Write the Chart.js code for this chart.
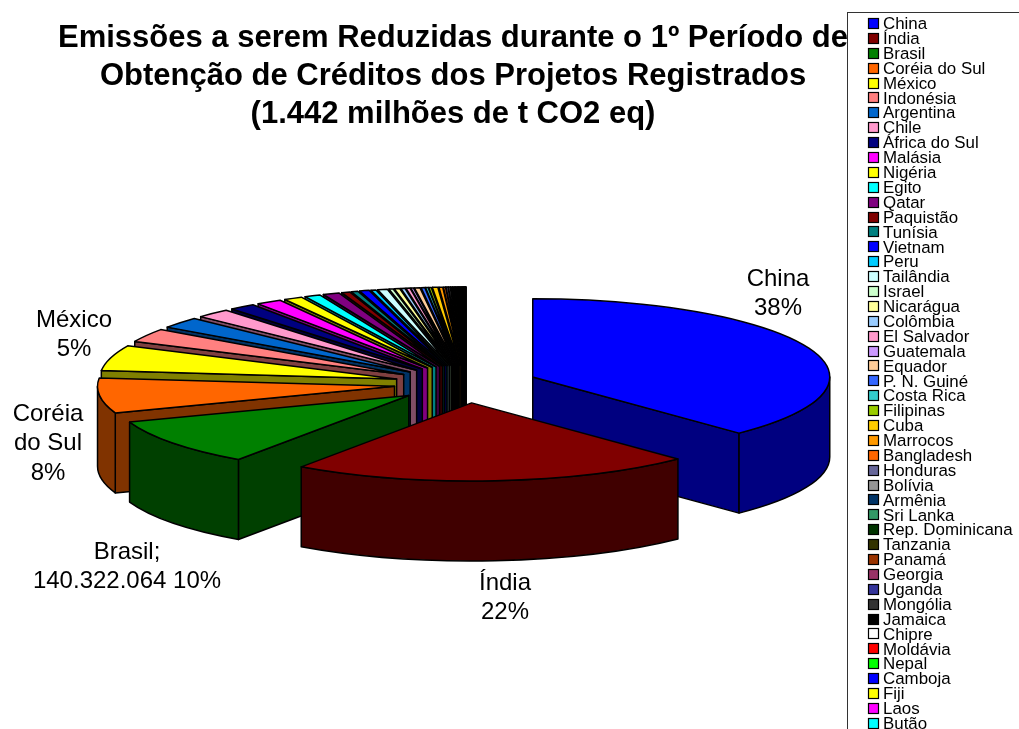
<!DOCTYPE html>
<html>
<head>
<meta charset="utf-8">
<title>Emissões a serem Reduzidas</title>
<script src="https://cdn.jsdelivr.net/npm/chart.js@4/dist/chart.umd.min.js"></script>
<style>
html, body { margin: 0; padding: 0; background: #fff; overflow: hidden; }
#wrap { position: relative; width: 1019px; height: 729px; }
</style>
</head>
<body>
<div id="wrap"><canvas id="pie-chart" width="1019" height="729"></canvas></div>
<script>
// Data (milhões de t CO2 eq)
const countries = ['China', 'Índia', 'Brasil', 'Coréia do Sul', 'México', 'Indonésia', 'Argentina', 'Chile',
    'África do Sul', 'Malásia', 'Nigéria', 'Egito', 'Qatar', 'Paquistão', 'Tunísia', 'Vietnam', 'Peru',
    'Tailândia', 'Israel', 'Nicarágua', 'Colômbia', 'El Salvador', 'Guatemala', 'Equador', 'P. N. Guiné',
    'Costa Rica', 'Filipinas', 'Cuba', 'Marrocos', 'Bangladesh', 'Honduras', 'Bolívia', 'Armênia', 'Sri Lanka',
    'Rep. Dominicana', 'Tanzania', 'Panamá', 'Georgia', 'Uganda', 'Mongólia', 'Jamaica', 'Chipre', 'Moldávia',
    'Nepal', 'Camboja', 'Fiji', 'Laos', 'Butão'];
const emissions = [544, 316, 140.322, 104, 76, 40, 33, 27, 20.5, 20, 14.5, 12.4, 12.8, 6.5, 5.2, 7.6, 4, 7.6,
    3.2, 4.3, 3.2, 3.2, 2, 4.3, 2.9, 2, 2, 4.3, 2.9, 1.6, 1.5, 1.4, 1.2, 1.1, 1, 0.9, 0.8, 0.8, 0.7, 0.6, 0.5,
    0.5, 0.4, 0.4, 0.3, 0.2, 0.2, 0.1];
const sliceColors = ['#0000FF', '#800000', '#008000', '#FF6600', '#FFFF00', '#FF8080', '#0066CC', '#FF99CC',
    '#000080', '#FF00FF', '#FFFF00', '#00FFFF', '#800080', '#800000', '#008080', '#0000FF', '#00CCFF', '#CCFFFF',
    '#CCFFCC', '#FFFF99', '#99CCFF', '#FF99CC', '#CC99FF', '#FFCC99', '#3366FF', '#33CCCC', '#99CC00', '#FFCC00',
    '#FF9900', '#FF6600', '#666699', '#969696', '#003366', '#339966', '#003300', '#333300', '#993300', '#993366',
    '#333399', '#333333', '#000000', '#FFFFFF', '#FF0000', '#00FF00', '#0000FF', '#FFFF00', '#FF00FF', '#00FFFF'];
const titleLines = ['Emissões a serem Reduzidas durante o 1º Período de',
    'Obtenção de Créditos dos Projetos Registrados',
    '(1.442 milhões de t CO2 eq)'];
const labelTexts = [['China', '38%'], ['Índia', '22%'], ['Brasil;', '140.322.064 10%'], ['Coréia', 'do Sul', '8%'], ['México', '5%']];

// Placement and look of the 3D pie
const FONT = '"Liberation Sans", Arial, sans-serif';
const labelCenters = [[778, 279], [505, 583], [127, 552], [48, 414], [74, 320]];
const LABEL_LINE = 29.5;
const TILT = 0.263;      // vertical squash of the pie
const DEPTH = 80;        // wall height
const EXPLODE = 72;      // how far slices move out
const SHIFT_X = 13;      // title is centred at 453, pie at 466

function darken(hex) {
    const n = parseInt(hex.slice(1), 16);
    const half = v => Math.round(v / 2);
    return `rgb(${half(n >> 16)}, ${half((n >> 8) & 255)}, ${half(n & 255)})`;
}

function drawSlice(ctx, arc, color) {
    const a0 = arc.startAngle;
    const a1 = arc.endAngle;
    const mid = (a0 + a1) / 2;
    const R = arc.outerRadius;
    const cx = arc.x + SHIFT_X + EXPLODE * Math.cos(mid);
    const cy = arc.y + EXPLODE * TILT * Math.sin(mid);
    const ry = R * TILT;
    const rimX = a => cx + R * Math.cos(a);
    const rimY = a => cy + ry * Math.sin(a);

    ctx.lineWidth = 1.5;
    ctx.strokeStyle = '#000';
    ctx.lineJoin = 'round';
    ctx.fillStyle = darken(color);

    // radial walls, only the ones facing the viewer
    [[a0, a0 - Math.PI / 2], [a1, a1 + Math.PI / 2]].forEach(([a, normal]) => {
        if (Math.sin(normal) <= 0) return;
        ctx.beginPath();
        ctx.moveTo(cx, cy);
        ctx.lineTo(rimX(a), rimY(a));
        ctx.lineTo(rimX(a), rimY(a) + DEPTH);
        ctx.lineTo(cx, cy + DEPTH);
        ctx.closePath();
        ctx.fill();
        ctx.stroke();
    });

    // outer curved wall, front half only
    const from = Math.max(a0, 0);
    const to = Math.min(a1, Math.PI);
    if (from < to) {
        ctx.beginPath();
        ctx.ellipse(cx, cy, R, ry, 0, from, to);
        ctx.ellipse(cx, cy + DEPTH, R, ry, 0, to, from, true);
        ctx.closePath();
        ctx.fill();
        ctx.stroke();
    }

    // top face: the library's own arc, squashed
    ctx.save();
    ctx.translate(cx, cy);
    ctx.scale(1, TILT);
    ctx.translate(-arc.x, -arc.y);
    arc.draw(ctx);
    ctx.restore();

    ctx.beginPath();
    ctx.moveTo(cx, cy);
    ctx.ellipse(cx, cy, R, ry, 0, a0, a1);
    ctx.closePath();
    ctx.stroke();
}

const pie3d = {
    id: 'pie3d',
    beforeDatasetDraw(chart, args) {
        const ctx = chart.ctx;
        const colors = chart.data.datasets[0].backgroundColor;
        const order = args.meta.data.map((arc, i) => ({ arc, i }));
        const midSin = o => Math.sin((o.arc.startAngle + o.arc.endAngle) / 2);
        order.sort((p, q) => midSin(p) - midSin(q));
        ctx.save();
        order.forEach(o => drawSlice(ctx, o.arc, colors[o.i]));
        ctx.restore();
        return false;
    },
    afterDraw(chart) {
        const ctx = chart.ctx;
        ctx.save();
        // data labels
        ctx.fillStyle = '#000';
        ctx.textAlign = 'center';
        ctx.textBaseline = 'middle';
        ctx.font = `24px ${FONT}`;
        labelTexts.forEach((lines, i) => {
            lines.forEach((line, j) => {
                ctx.fillText(line, labelCenters[i][0], labelCenters[i][1] + j * LABEL_LINE);
            });
        });
        // legend, runs off the page like in the original
        ctx.strokeStyle = '#333';
        ctx.lineWidth = 1;
        ctx.strokeRect(847.5, 12.5, 200, 760);
        ctx.textAlign = 'left';
        ctx.font = `16.9px ${FONT}`;
        chart.data.labels.forEach((name, i) => {
            const y = 24 + i * 14.89;
            ctx.fillStyle = sliceColors[i];
            ctx.fillRect(868.5, Math.round(y) - 5.5, 10, 10);
            ctx.strokeStyle = '#000';
            ctx.lineWidth = 1.2;
            ctx.strokeRect(868.5, Math.round(y) - 5.5, 10, 10);
            ctx.fillStyle = '#000';
            ctx.fillText(name, 883, y + 0.5);
        });
        ctx.restore();
    }
};

const pieChart = new Chart(document.getElementById('pie-chart').getContext('2d'), {
    type: 'pie',
    data: {
        labels: countries,
        datasets: [{
            data: emissions,
            backgroundColor: sliceColors,
            borderWidth: 0
        }]
    },
    options: {
        responsive: false,
        animation: false,
        radius: 297,
        layout: { padding: { left: 0, right: 113, top: 0, bottom: 94 } },
        plugins: {
            legend: { display: false },
            tooltip: { enabled: false },
            title: {
                display: true,
                text: titleLines,
                color: '#000',
                padding: { top: 19, bottom: 0 },
                font: { family: FONT, size: 31, weight: 'bold', lineHeight: 1.226 }
            }
        }
    },
    plugins: [pie3d]
});
</script>
</body>
</html>
